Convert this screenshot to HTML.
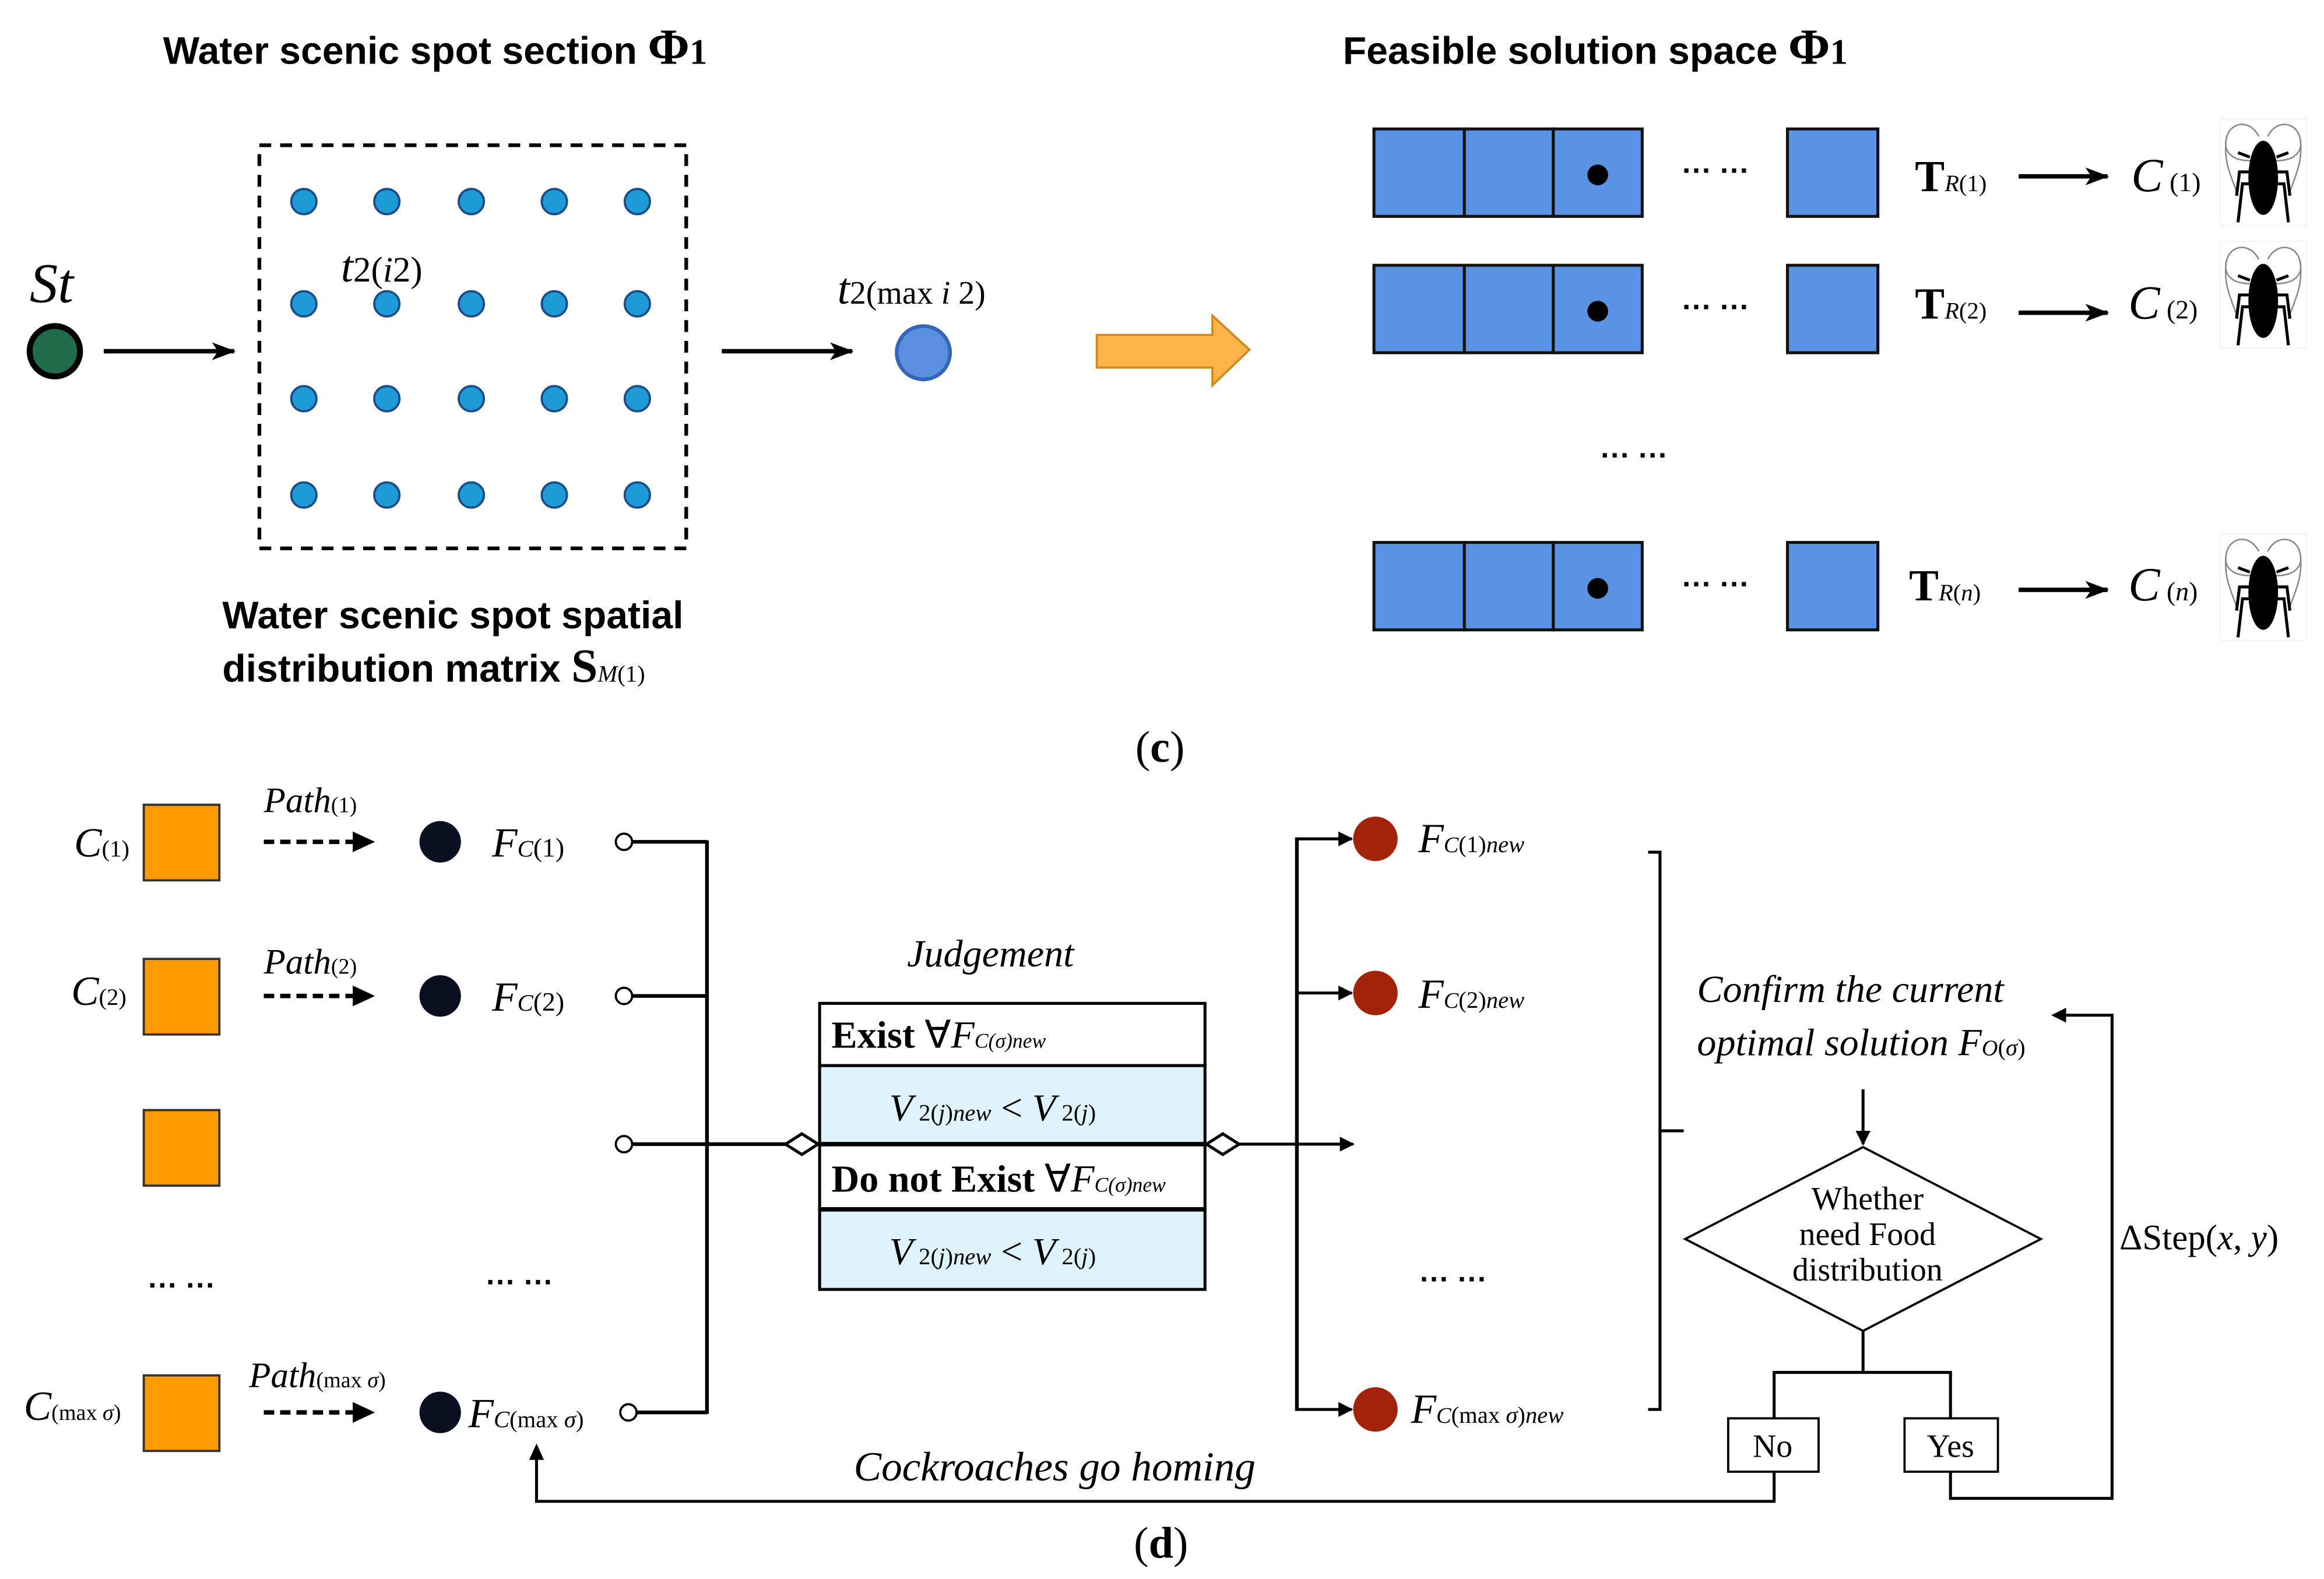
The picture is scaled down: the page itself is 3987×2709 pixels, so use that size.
<!DOCTYPE html>
<html><head><meta charset="utf-8"><style>html,body{margin:0;padding:0;background:#fff}svg{display:block}</style></head><body>
<svg width="3987" height="2709" viewBox="0 0 1568 1065.4" xmlns="http://www.w3.org/2000/svg">
<defs>
<marker id="ah" markerWidth="10" markerHeight="10" refX="9" refY="5" orient="auto" markerUnits="userSpaceOnUse"><path d="M0,0 L10,5 L0,10 Z" fill="#000"/></marker>
<marker id="ah2" markerWidth="16" markerHeight="12" refX="15" refY="6" orient="auto" markerUnits="userSpaceOnUse"><path d="M0,0 L16,6 L0,12 L4,6 Z" fill="#000"/></marker>
<g id="roach">
<rect x="0" y="0" width="58" height="72" fill="#fff" stroke="#eee" stroke-width="0.5"/>
<path d="M26,28 C10,30 2,24 4,14 C6,2 20,0 26,12" fill="none" stroke="#888" stroke-width="1"/>
<path d="M32,28 C48,30 56,24 54,14 C52,2 38,0 32,12" fill="none" stroke="#888" stroke-width="1"/>
<path d="M4,14 C2,30 8,40 12,52" fill="none" stroke="#888" stroke-width="1"/>
<path d="M54,14 C56,30 50,40 46,52" fill="none" stroke="#888" stroke-width="1"/>
<ellipse cx="29" cy="40" rx="10" ry="25" fill="#000"/>
<path d="M20,26 L12,23 M38,26 L46,23 M20,36 L13,36 L11,52 M38,36 L45,36 L47,52 M20,44 L15,44 L12,70 M38,44 L43,44 L46,70" stroke="#000" stroke-width="2" fill="none"/>
</g>
<g id="rowc">
<rect x="927" y="0" width="61" height="59" fill="#5b93e4" stroke="#111" stroke-width="2"/>
<rect x="988" y="0" width="60" height="59" fill="#5b93e4" stroke="#111" stroke-width="2"/>
<rect x="1048" y="0" width="60" height="59" fill="#5b93e4" stroke="#111" stroke-width="2"/>
<circle cx="1078" cy="31" r="7" fill="#000"/>
<text x="1135" y="35" font-family="Liberation Sans" font-size="20" font-weight="bold">··· ···</text>
<rect x="1206" y="0" width="61" height="59" fill="#5b93e4" stroke="#111" stroke-width="2"/>
<line x1="1362" y1="32" x2="1422" y2="32" stroke="#000" stroke-width="3" marker-end="url(#ah2)"/>
</g>
</defs>

<g font-family="Liberation Serif, serif">
<!-- top left -->
<text x="110" y="43" font-family="Liberation Sans" font-weight="bold" font-size="26">Water scenic spot section <tspan font-family="Liberation Serif" font-size="34">Φ</tspan><tspan font-family="Liberation Serif" font-size="24">1</tspan></text>
<rect x="175" y="98" width="288" height="272" fill="none" stroke="#000" stroke-width="2.5" stroke-dasharray="8,6"/>
<g fill="#1e9ad6" stroke="#1b4d8a" stroke-width="1.5">
<circle cx="205" cy="136" r="8.5"/><circle cx="261" cy="136" r="8.5"/><circle cx="318" cy="136" r="8.5"/><circle cx="374" cy="136" r="8.5"/><circle cx="430" cy="136" r="8.5"/>
<circle cx="205" cy="205" r="8.5"/><circle cx="261" cy="205" r="8.5"/><circle cx="318" cy="205" r="8.5"/><circle cx="374" cy="205" r="8.5"/><circle cx="430" cy="205" r="8.5"/>
<circle cx="205" cy="269" r="8.5"/><circle cx="261" cy="269" r="8.5"/><circle cx="318" cy="269" r="8.5"/><circle cx="374" cy="269" r="8.5"/><circle cx="430" cy="269" r="8.5"/>
<circle cx="205" cy="334" r="8.5"/><circle cx="261" cy="334" r="8.5"/><circle cx="318" cy="334" r="8.5"/><circle cx="374" cy="334" r="8.5"/><circle cx="430" cy="334" r="8.5"/>
</g>
<text x="230" y="190" font-size="30" font-style="italic">t<tspan font-style="normal" font-size="24">2(</tspan><tspan font-size="24">i</tspan><tspan font-style="normal" font-size="24">2)</tspan></text>
<text x="20" y="204" font-size="38" font-style="italic">St</text>
<circle cx="37" cy="237" r="17" fill="#1f6b4a" stroke="#000" stroke-width="4"/>
<line x1="70" y1="237" x2="158" y2="237" stroke="#000" stroke-width="3" marker-end="url(#ah2)"/>
<line x1="487" y1="237" x2="575" y2="237" stroke="#000" stroke-width="3" marker-end="url(#ah2)"/>
<text x="565" y="205" font-size="30" font-style="italic">t<tspan font-style="normal" font-size="22">2(max </tspan><tspan font-size="22">i</tspan><tspan font-style="normal" font-size="22"> 2)</tspan></text>
<circle cx="623" cy="238" r="18" fill="#5b8fe0" stroke="#3566b8" stroke-width="2.5"/>
<text x="150" y="424" font-family="Liberation Sans" font-weight="bold" font-size="26">Water scenic spot spatial</text>
<text x="150" y="460" font-family="Liberation Sans" font-weight="bold" font-size="26">distribution matrix <tspan font-family="Liberation Serif" font-size="32">S</tspan><tspan font-family="Liberation Serif" font-weight="normal" font-size="16" font-style="italic">M</tspan><tspan font-family="Liberation Serif" font-weight="normal" font-size="16">(1)</tspan></text>
<path d="M740,226 L818,226 L818,213 L843,236 L818,260 L818,248 L740,248 Z" fill="#fdb44b" stroke="#d08a20" stroke-width="1.5"/>

<!-- top right -->
<text x="906" y="43" font-family="Liberation Sans" font-weight="bold" font-size="26">Feasible solution space <tspan font-family="Liberation Serif" font-size="34">Φ</tspan><tspan font-family="Liberation Serif" font-size="24">1</tspan></text>
<use href="#rowc" y="87"/>
<use href="#rowc" y="179"/>
<use href="#rowc" y="366"/>
<text x="1292" y="129" font-size="30" font-weight="bold">T<tspan font-weight="normal" font-size="16" font-style="italic">R</tspan><tspan font-weight="normal" font-size="16">(1)</tspan></text>
<text x="1292" y="215" font-size="30" font-weight="bold">T<tspan font-weight="normal" font-size="16" font-style="italic">R</tspan><tspan font-weight="normal" font-size="16">(2)</tspan></text>
<text x="1288" y="405" font-size="30" font-weight="bold">T<tspan font-weight="normal" font-size="16" font-style="italic">R</tspan><tspan font-weight="normal" font-size="16">(</tspan><tspan font-weight="normal" font-size="16" font-style="italic">n</tspan><tspan font-weight="normal" font-size="16">)</tspan></text>
<text x="1438" y="129" font-size="32" font-style="italic">C<tspan font-style="normal" font-size="18"> (1)</tspan></text>
<text x="1436" y="215" font-size="32" font-style="italic">C<tspan font-style="normal" font-size="18"> (2)</tspan></text>
<text x="1436" y="405" font-size="32" font-style="italic">C<tspan font-style="normal" font-size="18"> (</tspan><tspan font-size="18">n</tspan><tspan font-style="normal" font-size="18">)</tspan></text>
<use href="#roach" x="1498" y="80"/>
<use href="#roach" x="1498" y="163"/>
<use href="#roach" x="1498" y="360"/>
<text x="1080" y="314" font-family="Liberation Sans" font-size="20" font-weight="bold">··· ···</text>
<text x="766" y="514" font-size="30">(<tspan font-weight="bold">c</tspan>)</text>

<!-- bottom left -->
<g fill="#ff9a00" stroke="#333" stroke-width="1.5">
<rect x="97" y="543" width="51" height="51"/><rect x="97" y="647" width="51" height="51"/>
<rect x="97" y="749" width="51" height="51"/><rect x="97" y="928" width="51" height="51"/>
</g>
<text x="50" y="578" font-size="28" font-style="italic">C<tspan font-style="normal" font-size="16">(1)</tspan></text>
<text x="48" y="678" font-size="28" font-style="italic">C<tspan font-style="normal" font-size="16">(2)</tspan></text>
<text x="16" y="958" font-size="28" font-style="italic">C<tspan font-style="normal" font-size="15">(max </tspan><tspan font-size="15">σ</tspan><tspan font-style="normal" font-size="15">)</tspan></text>
<text x="178" y="548" font-size="24" font-style="italic">Path<tspan font-style="normal" font-size="15">(1)</tspan></text>
<text x="178" y="657" font-size="24" font-style="italic">Path<tspan font-style="normal" font-size="15">(2)</tspan></text>
<text x="168" y="936" font-size="24" font-style="italic">Path<tspan font-style="normal" font-size="15">(max </tspan><tspan font-size="15">σ</tspan><tspan font-style="normal" font-size="15">)</tspan></text>
<g stroke="#000" stroke-width="3" stroke-dasharray="7,4">
<line x1="178" y1="568" x2="240" y2="568"/><line x1="178" y1="672" x2="240" y2="672"/><line x1="178" y1="953" x2="240" y2="953"/>
</g>
<path d="M238,561 L253,568 L238,575Z M238,665 L253,672 L238,679Z M238,946 L253,953 L238,960Z" fill="#000"/>
<g fill="#0b1020"><circle cx="297" cy="568" r="14"/><circle cx="297" cy="672" r="14"/><circle cx="297" cy="953" r="14"/></g>
<text x="332" y="578" font-size="28" font-style="italic">F<tspan font-size="16">C</tspan><tspan font-style="normal" font-size="18">(1)</tspan></text>
<text x="332" y="682" font-size="28" font-style="italic">F<tspan font-size="16">C</tspan><tspan font-style="normal" font-size="18">(2)</tspan></text>
<text x="316" y="963" font-size="28" font-style="italic">F<tspan font-size="16">C</tspan><tspan font-style="normal" font-size="16">(max </tspan><tspan font-size="16">σ</tspan><tspan font-style="normal" font-size="16">)</tspan></text>
<text x="100" y="874" font-family="Liberation Sans" font-size="20" font-weight="bold">··· ···</text>
<text x="328" y="872" font-family="Liberation Sans" font-size="20" font-weight="bold">··· ···</text>
<g stroke="#000" stroke-width="2.5" fill="none">
<line x1="427" y1="568" x2="477" y2="568"/><line x1="427" y1="672" x2="477" y2="672"/><line x1="427" y1="772" x2="530" y2="772"/><line x1="430" y1="953" x2="477" y2="953"/>
<line x1="477" y1="567" x2="477" y2="954"/>
</g>
<g fill="#fff" stroke="#000" stroke-width="1.5">
<circle cx="421" cy="568" r="5.5"/><circle cx="421" cy="672" r="5.5"/><circle cx="421" cy="772" r="5.5"/><circle cx="424" cy="953" r="5.5"/>
</g>

<!-- judgement -->
<text x="612" y="652" font-size="26" font-style="italic">Judgement</text>
<rect x="553" y="677" width="260" height="42" fill="#fff" stroke="#000" stroke-width="2"/>
<rect x="553" y="719" width="260" height="53" fill="#dff3fc" stroke="#000" stroke-width="2"/>
<rect x="553" y="772" width="260" height="44" fill="#fff" stroke="#000" stroke-width="2"/>
<rect x="553" y="816" width="260" height="54" fill="#dff3fc" stroke="#000" stroke-width="2"/>
<line x1="553" y1="772" x2="813" y2="772" stroke="#000" stroke-width="3"/>
<line x1="553" y1="816" x2="813" y2="816" stroke="#000" stroke-width="3"/>
<text x="561" y="707" font-size="26" font-weight="bold">Exist <tspan font-weight="normal">∀</tspan><tspan font-weight="normal" font-style="italic">F</tspan><tspan font-weight="normal" font-style="italic" font-size="14">C(σ)new</tspan></text>
<text x="600" y="756" font-size="26" font-style="italic">V<tspan font-style="normal" font-size="16"> 2(</tspan><tspan font-size="16">j</tspan><tspan font-style="normal" font-size="16">)</tspan><tspan font-size="16">new</tspan><tspan font-style="normal"> &lt; </tspan>V<tspan font-style="normal" font-size="16"> 2(</tspan><tspan font-size="16">j</tspan><tspan font-style="normal" font-size="16">)</tspan></text>
<text x="561" y="804" font-size="26" font-weight="bold">Do not Exist <tspan font-weight="normal">∀</tspan><tspan font-weight="normal" font-style="italic">F</tspan><tspan font-weight="normal" font-style="italic" font-size="14">C(σ)new</tspan></text>
<text x="600" y="853" font-size="26" font-style="italic">V<tspan font-style="normal" font-size="16"> 2(</tspan><tspan font-size="16">j</tspan><tspan font-style="normal" font-size="16">)</tspan><tspan font-size="16">new</tspan><tspan font-style="normal"> &lt; </tspan>V<tspan font-style="normal" font-size="16"> 2(</tspan><tspan font-size="16">j</tspan><tspan font-style="normal" font-size="16">)</tspan></text>
<path d="M530,772 L541,765 L552,772 L541,779 Z" fill="#fff" stroke="#000" stroke-width="2"/>
<path d="M814,772 L825,765 L836,772 L825,779 Z" fill="#fff" stroke="#000" stroke-width="2"/>
<line x1="836" y1="772" x2="913" y2="772" stroke="#000" stroke-width="2" marker-end="url(#ah)"/>

<!-- new F -->
<g stroke="#000" stroke-width="2.5" fill="none">
<line x1="875" y1="565" x2="875" y2="952"/>
</g>
<line x1="875" y1="566" x2="912" y2="566" stroke="#000" stroke-width="2" marker-end="url(#ah)"/>
<line x1="875" y1="670" x2="912" y2="670" stroke="#000" stroke-width="2" marker-end="url(#ah)"/>
<line x1="875" y1="951" x2="912" y2="951" stroke="#000" stroke-width="2" marker-end="url(#ah)"/>
<g fill="#a3230a"><circle cx="928" cy="566" r="15"/><circle cx="928" cy="670" r="15"/><circle cx="928" cy="951" r="15"/></g>
<text x="957" y="575" font-size="28" font-style="italic">F<tspan font-size="15">C</tspan><tspan font-style="normal" font-size="16">(1)</tspan><tspan font-size="16">new</tspan></text>
<text x="957" y="680" font-size="28" font-style="italic">F<tspan font-size="15">C</tspan><tspan font-style="normal" font-size="16">(2)</tspan><tspan font-size="16">new</tspan></text>
<text x="952" y="960" font-size="28" font-style="italic">F<tspan font-size="15">C</tspan><tspan font-style="normal" font-size="16">(max </tspan><tspan font-size="16">σ</tspan><tspan font-style="normal" font-size="16">)</tspan><tspan font-size="16">new</tspan></text>
<text x="958" y="870" font-family="Liberation Sans" font-size="20" font-weight="bold">··· ···</text>
<path d="M1112,575 L1120,575 L1120,951 L1112,951 M1120,763 L1136,763" fill="none" stroke="#000" stroke-width="2"/>

<!-- right flowchart -->
<text x="1145" y="676" font-size="26" font-style="italic">Confirm the current</text>
<text x="1145" y="712" font-size="26" font-style="italic">optimal solution <tspan>F</tspan><tspan font-size="15">O</tspan><tspan font-style="normal" font-size="16">(</tspan><tspan font-size="16">σ</tspan><tspan font-style="normal" font-size="16">)</tspan></text>
<line x1="1257" y1="735" x2="1257" y2="772" stroke="#000" stroke-width="2" marker-end="url(#ah)"/>
<path d="M1137,836 L1257,774 L1377,836 L1257,898 Z" fill="#fff" stroke="#000" stroke-width="1.5"/>
<text x="1260" y="816" font-size="22" text-anchor="middle">Whether</text>
<text x="1260" y="840" font-size="22" text-anchor="middle">need Food</text>
<text x="1260" y="864" font-size="22" text-anchor="middle">distribution</text>
<path d="M1257,898 L1257,926 M1197,957 L1197,926 L1316,926 L1316,957" fill="none" stroke="#000" stroke-width="2"/>
<rect x="1166" y="957" width="61" height="36" fill="#fff" stroke="#000" stroke-width="1.5"/>
<rect x="1285" y="957" width="63" height="36" fill="#fff" stroke="#000" stroke-width="1.5"/>
<text x="1196" y="983" font-size="22" text-anchor="middle">No</text>
<text x="1316" y="983" font-size="22" text-anchor="middle">Yes</text>
<path d="M1316,993 L1316,1011 L1425,1011 L1425,685 L1392,685" fill="none" stroke="#000" stroke-width="2"/>
<path d="M1384,685 L1394,680 L1394,690 Z" fill="#000"/>
<text x="1430" y="843" font-size="24">ΔStep(<tspan font-style="italic">x</tspan>, <tspan font-style="italic">y</tspan>)</text>
<path d="M1197,993 L1197,1013 L362,1013 L362,984" fill="none" stroke="#000" stroke-width="2"/>
<path d="M362,974 L357,985 L367,985 Z" fill="#000"/>
<text x="576" y="999" font-size="28" font-style="italic">Cockroaches go homing</text>
<text x="765" y="1051" font-size="30">(<tspan font-weight="bold">d</tspan>)</text>
</g>
</svg>
</body></html>
